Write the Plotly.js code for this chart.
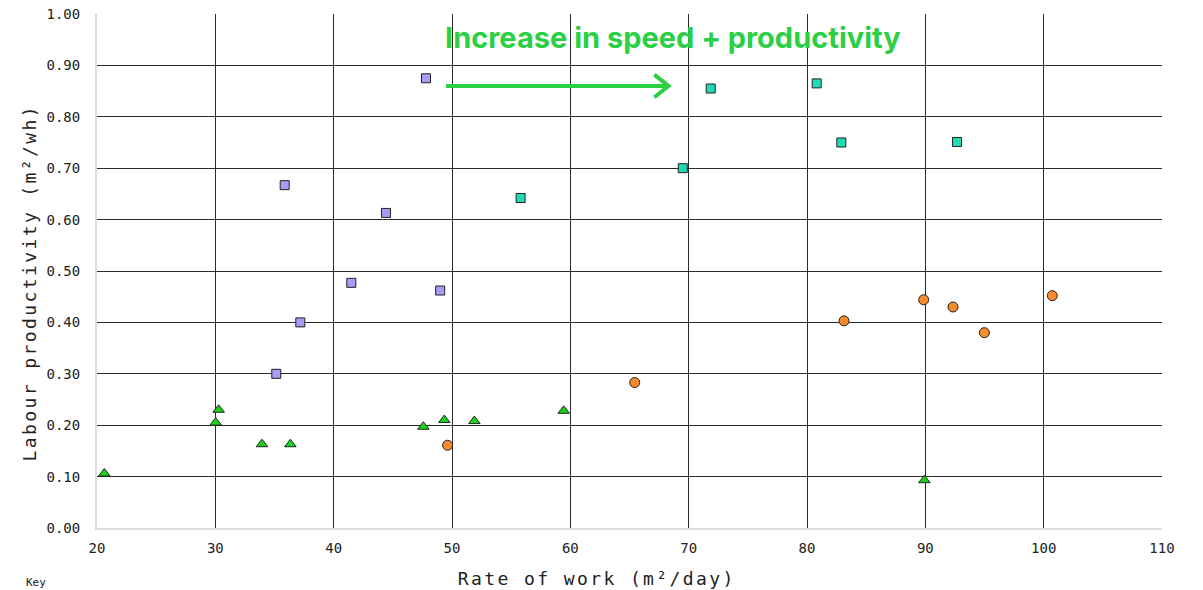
<!DOCTYPE html>
<html>
<head>
<meta charset="utf-8">
<script src="https://cdn.plot.ly/plotly-3.0.1.min.js"></script>
<style>
html,body{margin:0;padding:0;background:#fff;}
#chart{width:1203px;height:590px;}
.annotation[data-index="1"] text, .annotation[data-index="2"] text { letter-spacing: 2.4px; }
</style>
</head>
<body>
<div id="chart"></div>
<script>
// Purple squares
const purpleX = [47.8, 35.86, 44.42, 41.49, 49.0, 37.18, 35.15];
const purpleY = [0.875, 0.667, 0.613, 0.477, 0.462, 0.400, 0.300];
// Teal squares
const tealX = [55.8, 69.5, 71.86, 80.82, 82.9, 92.68];
const tealY = [0.642, 0.700, 0.855, 0.865, 0.750, 0.751];
// Orange circles
const orangeX = [49.63, 65.44, 83.13, 89.86, 92.34, 94.99, 100.73];
const orangeY = [0.161, 0.283, 0.403, 0.444, 0.430, 0.380, 0.452];
// Green triangles
const greenX = [20.62, 30.03, 30.28, 33.94, 36.34, 47.58, 49.35, 51.89, 59.44, 89.92];
const greenY = [0.106, 0.205, 0.230, 0.163, 0.163, 0.197, 0.210, 0.208, 0.228, 0.093];
// Arrow (data coordinates)
const arrowX = [49.5, 68.3];
const arrowY = 0.86;
const headingText = 'Increase in speed + productivity';
const xTitle = 'Rate of work (m²/day)';
const yTitle = 'Labour productivity (m²/wh)';
const keyText = 'Key';

const mono = 'DejaVu Sans Mono, monospace';
const outline = {color: '#222', width: 1};

const traces = [
  {x: purpleX, y: purpleY, type: 'scatter', mode: 'markers', name: 'A',
   marker: {symbol: 'square', size: 9, color: '#a79cf5', line: outline}},
  {x: tealX, y: tealY, type: 'scatter', mode: 'markers', name: 'B',
   marker: {symbol: 'square', size: 9, color: '#1fdcb4', line: outline}},
  {x: orangeX, y: orangeY, type: 'scatter', mode: 'markers', name: 'C',
   marker: {symbol: 'circle', size: 10, color: '#f68b2c', line: outline}},
  {x: greenX, y: greenY, type: 'scatter', mode: 'markers', name: 'D',
   marker: {symbol: 'triangle-up', size: 10, color: '#19d419', line: outline}}
];

const green = '#2bcf45';
const headDx = 1.2, headDy = 0.022;
const layout = {
  width: 1203, height: 590,
  margin: {l: 97, r: 41, t: 14, b: 62},
  paper_bgcolor: '#fff', plot_bgcolor: '#fff',
  showlegend: false,
  font: {family: mono, color: '#222', size: 14},
  xaxis: {
    range: [20, 110], dtick: 10, tick0: 0,
    showgrid: true, gridcolor: '#2a2a2a', gridwidth: 1,
    showline: true, linecolor: '#dddddd', linewidth: 2, mirror: false,
    zeroline: false, ticks: '', ticklabelstandoff: 6,
    tickfont: {family: mono, size: 14, color: '#222'}
  },
  yaxis: {
    range: [0, 1.0], dtick: 0.1, tick0: 0, tickformat: '.2f',
    showgrid: true, gridcolor: '#2a2a2a', gridwidth: 1,
    showline: true, linecolor: '#dddddd', linewidth: 2, mirror: false,
    zeroline: true, zerolinecolor: '#dddddd', zerolinewidth: 2, ticks: '', ticklabelstandoff: 12,
    tickfont: {family: mono, size: 14, color: '#222'}
  },
  shapes: [
    {type: 'line', xref: 'x', yref: 'y', x0: arrowX[0], x1: arrowX[1], y0: arrowY, y1: arrowY,
     line: {color: green, width: 4}},
    {type: 'path', xref: 'x', yref: 'y',
     path: 'M ' + (arrowX[1] - headDx) + ' ' + (arrowY + headDy) + ' L ' + arrowX[1] + ' ' + arrowY + ' L ' + (arrowX[1] - headDx) + ' ' + (arrowY - headDy),
     line: {color: green, width: 4}}
  ],
  annotations: [
    {text: '<b>' + headingText + '</b>', xref: 'paper', yref: 'paper', x: 0.541, y: 0.955,
     xanchor: 'center', yanchor: 'middle', showarrow: false,
     font: {family: 'Inter, sans-serif', size: 29, color: green}},
    {text: xTitle, xref: 'paper', yref: 'paper', x: 0.4695, y: -0.0973,
     xanchor: 'center', yanchor: 'middle', showarrow: false,
     font: {family: mono, size: 18, color: '#222'}},
    {text: yTitle, xref: 'paper', yref: 'paper', x: -0.0629, y: 0.4767, textangle: -90,
     xanchor: 'center', yanchor: 'middle', showarrow: false,
     font: {family: mono, size: 18, color: '#222'}},
    {text: keyText, xref: 'paper', yref: 'paper', x: -0.068, y: -0.1205, xanchor: 'left', yanchor: 'bottom',
     showarrow: false, borderpad: 0, font: {family: mono, size: 11, color: '#222'}}
  ]
};

Plotly.newPlot('chart', traces, layout, {displayModeBar: false, staticPlot: true});
</script>
</body>
</html>
